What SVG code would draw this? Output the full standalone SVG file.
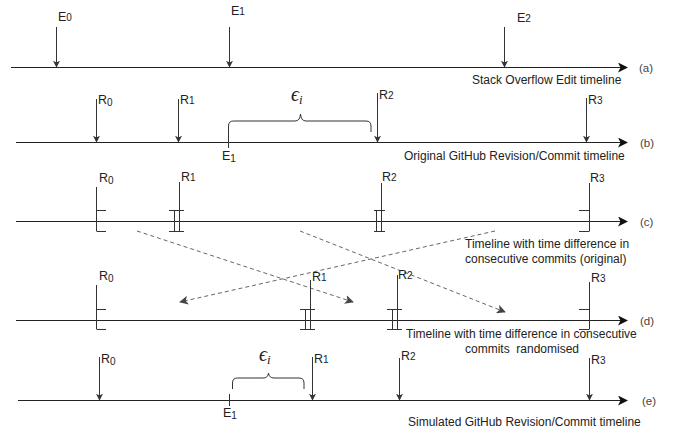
<svg xmlns="http://www.w3.org/2000/svg" width="677" height="434" viewBox="0 0 677 434">
<defs>
<marker id="ah" viewBox="0 0 10 10" refX="9" refY="5" markerWidth="7" markerHeight="7" markerUnits="userSpaceOnUse" orient="auto"><path d="M0,0 L10,5 L0,10 L2.5,5 Z" fill="#333"/></marker>
<marker id="ahl" viewBox="0 0 10 10" refX="9" refY="5" markerWidth="10" markerHeight="10" markerUnits="userSpaceOnUse" orient="auto"><path d="M0,0 L10,5 L0,10 L2.5,5 Z" fill="#111"/></marker>
<marker id="ahd" viewBox="0 0 10 10" refX="9" refY="5" markerWidth="9" markerHeight="9" markerUnits="userSpaceOnUse" orient="auto"><path d="M0,0 L10,5 L0,10 L2.5,5 Z" fill="#444"/></marker>
</defs>
<style>
.tl{stroke:#222;stroke-width:1.2;fill:none}
.ar{stroke:#333;stroke-width:1;fill:none}
.br{stroke:#333;stroke-width:1;fill:none}
.ds{stroke:#666;stroke-width:1;fill:none;stroke-dasharray:4,3}
text{font-family:"Liberation Sans",Arial,sans-serif;fill:#222}
.lb{font-size:12.5px}
.pl{font-size:11.5px;fill:#444}
.cap{font-size:12px}
.sm{font-size:10px}
.eps{font-family:"Liberation Serif","DejaVu Serif",serif;font-style:italic;font-size:20px}
</style>
<rect width="677" height="434" fill="#fff"/>

<g id="connectors">
<line class="tl" x1="11" y1="67.5" x2="627" y2="67.5" marker-end="url(#ahl)"/>
<line class="tl" x1="16" y1="142.5" x2="627" y2="142.5" marker-end="url(#ahl)"/>
<line class="tl" x1="16" y1="221.5" x2="627" y2="221.5" marker-end="url(#ahl)"/>
<line class="tl" x1="16" y1="320.5" x2="627" y2="320.5" marker-end="url(#ahl)"/>
<line class="tl" x1="18" y1="400.5" x2="627" y2="400.5" marker-end="url(#ahl)"/>
<line class="ds" x1="137" y1="231" x2="353" y2="302" marker-end="url(#ahd)"/>
<line class="ds" x1="300" y1="231" x2="505" y2="312" marker-end="url(#ahd)"/>
<line class="ds" x1="495" y1="231" x2="180" y2="302" marker-end="url(#ahd)"/>
</g>

<g id="timeline-a">
<line class="ar" x1="56.5" y1="27" x2="56.5" y2="67" marker-end="url(#ah)"/>
<text class="lb" x="58" y="21">E<tspan class="sm">0</tspan></text>
<line class="ar" x1="229.5" y1="27" x2="229.5" y2="67" marker-end="url(#ah)"/>
<text class="lb" x="231" y="15">E<tspan class="sm">1</tspan></text>
<line class="ar" x1="504.5" y1="27" x2="504.5" y2="67" marker-end="url(#ah)"/>
<text class="lb" x="517" y="22">E<tspan class="sm">2</tspan></text>
<text class="cap" x="472" y="84">Stack Overflow Edit timeline</text>
<text class="pl" x="639" y="72">(a)</text>
</g>

<g id="timeline-b">
<line class="ar" x1="96.5" y1="99" x2="96.5" y2="142" marker-end="url(#ah)"/>
<text class="lb" x="98" y="104">R<tspan class="sm" dy="2">0</tspan></text>
<line class="ar" x1="178.5" y1="99" x2="178.5" y2="142" marker-end="url(#ah)"/>
<text class="lb" x="180" y="104">R<tspan class="sm">1</tspan></text>
<line class="ar" x1="228.5" y1="131" x2="228.5" y2="148"/>
<text class="lb" x="222" y="160">E<tspan class="sm" dy="2">1</tspan></text>
<path class="br" d="M228.5,132 V126 Q228.5,121 233.5,121 H295 Q300,121 300.5,114 Q301,121 306,121 H366 Q371,121 371,126 V132"/>
<text class="eps" x="291" y="101">ϵ<tspan font-size="13" dy="3">i</tspan></text>
<line class="ar" x1="377.5" y1="93" x2="377.5" y2="142" marker-end="url(#ah)"/>
<text class="lb" x="379" y="99">R<tspan class="sm">2</tspan></text>
<line class="ar" x1="586.5" y1="98" x2="586.5" y2="142" marker-end="url(#ah)"/>
<text class="lb" x="588" y="104">R<tspan class="sm">3</tspan></text>
<text class="cap" x="404" y="160">Original GitHub Revision/Commit timeline</text>
<text class="pl" x="640" y="147">(b)</text>
</g>

<g id="timeline-c">
<path class="br" d="M96.5,187 V231 M96.5,210.5 H106 M96.5,231.5 H106"/>
<text class="lb" x="99" y="182">R<tspan class="sm" dy="2">0</tspan></text>
<path class="br" d="M179.5,182 V231 M174.5,210.5 V231 M169,210.5 H184 M169,231.5 H184"/>
<text class="lb" x="181" y="181">R<tspan class="sm">1</tspan></text>
<path class="br" d="M381.5,183 V231 M376.5,210.5 V231 M374,210.5 H385 M374,231.5 H385"/>
<text class="lb" x="382" y="181">R<tspan class="sm">2</tspan></text>
<path class="br" d="M589.5,183 V231 M579,210.5 H589.5 M579,231.5 H589.5"/>
<text class="lb" x="590" y="182">R<tspan class="sm">3</tspan></text>
<text class="cap" x="465" y="248">Timeline with time difference in</text>
<text class="cap" x="465" y="263">consecutive commits (original)</text>
<text class="pl" x="640" y="226">(c)</text>
</g>

<g id="timeline-d">
<path class="br" d="M96.5,285 V329 M96.5,309.5 H106 M96.5,329.5 H106"/>
<text class="lb" x="99" y="280">R<tspan class="sm" dy="2">0</tspan></text>
<path class="br" d="M310.5,280 V329 M305.5,309.5 V329 M300,309.5 H315 M300,329.5 H315"/>
<text class="lb" x="312" y="281">R<tspan class="sm">1</tspan></text>
<path class="br" d="M397.5,275 V329 M392.5,309.5 V329 M387,309.5 H402 M387,329.5 H402"/>
<text class="lb" x="398" y="279">R<tspan class="sm">2</tspan></text>
<path class="br" d="M589.5,282 V329 M579,309.5 H589.5 M579,329.5 H589.5"/>
<text class="lb" x="591" y="282">R<tspan class="sm">3</tspan></text>
<text class="cap" x="406" y="338">Timeline with time difference in consecutive</text>
<text class="cap" x="465" y="353" style="white-space:pre">commits  randomised</text>
<text class="pl" x="640" y="325">(d)</text>
</g>

<g id="timeline-e">
<line class="ar" x1="99.5" y1="357" x2="99.5" y2="400" marker-end="url(#ah)"/>
<text class="lb" x="101" y="363">R<tspan class="sm" dy="2">0</tspan></text>
<line class="ar" x1="229.5" y1="394" x2="229.5" y2="406"/>
<text class="lb" x="223" y="417">E<tspan class="sm" dy="2">1</tspan></text>
<path class="br" d="M232.5,389 V383 Q232.5,378 237.5,378 H263 Q268,378 268.5,373 Q269,378 274,378 H299 Q304,378 304,383 V389"/>
<text class="eps" x="259" y="361">ϵ<tspan font-size="13" dy="3">i</tspan></text>
<line class="ar" x1="312.5" y1="357" x2="312.5" y2="400" marker-end="url(#ah)"/>
<text class="lb" x="314" y="363">R<tspan class="sm">1</tspan></text>
<line class="ar" x1="399.5" y1="358" x2="399.5" y2="400" marker-end="url(#ah)"/>
<text class="lb" x="401" y="360">R<tspan class="sm">2</tspan></text>
<line class="ar" x1="589.5" y1="358" x2="589.5" y2="400" marker-end="url(#ah)"/>
<text class="lb" x="591" y="364">R<tspan class="sm">3</tspan></text>
<text class="cap" x="408" y="426">Simulated GitHub Revision/Commit timeline</text>
<text class="pl" x="642" y="405">(e)</text>
</g>
</svg>
